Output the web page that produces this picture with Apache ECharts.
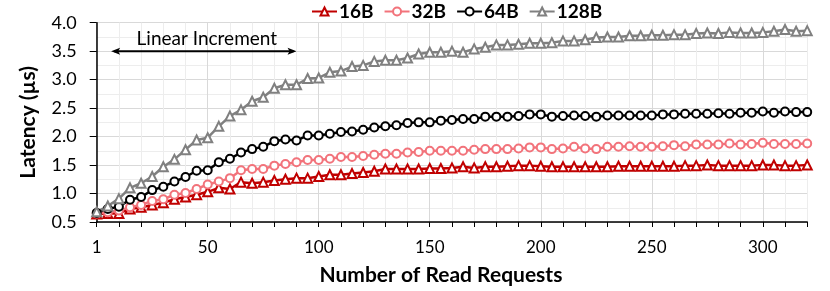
<!DOCTYPE html>
<html>
<head>
<meta charset="utf-8">
<script src="https://cdn.jsdelivr.net/npm/echarts@6/dist/echarts.min.js"></script>
<style>html,body{margin:0;padding:0;background:#fff;}#c{width:830px;height:291px;}</style>
</head>
<body>
<div id="c"></div>
<script>
const categories = ['1','5','10','15','20','25','30','35','40','45','50','55','60','65','70','75','80','85','90','95','100','105','110','115','120','125','130','135','140','145','150','155','160','165','170','175','180','185','190','195','200','205','210','215','220','225','230','235','240','245','250','255','260','265','270','275','280','285','290','295','300','305','310','315','320'];
const seriesNames = ['16B','32B','64B','128B'];
const lat16 = [0.64,0.65,0.65,0.73,0.76,0.80,0.84,0.90,0.94,0.98,1.03,1.10,1.08,1.20,1.18,1.20,1.23,1.25,1.27,1.27,1.30,1.33,
  1.33,1.35,1.37,1.39,1.43,1.43,1.43,1.43,1.44,1.44,1.45,1.47,1.45,1.47,1.47,1.48,1.49,1.49,1.48,1.47,1.47,1.47,
  1.47,1.47,1.47,1.48,1.48,1.48,1.48,1.48,1.48,1.49,1.49,1.50,1.49,1.49,1.49,1.49,1.50,1.50,1.49,1.49,1.50];
const lat32 = [0.65,0.67,0.70,0.76,0.80,0.87,0.90,0.98,1.01,1.08,1.16,1.21,1.27,1.41,1.43,1.43,1.49,1.52,1.55,1.59,1.59,1.61,
  1.64,1.64,1.66,1.68,1.70,1.70,1.72,1.73,1.75,1.75,1.75,1.75,1.77,1.78,1.78,1.78,1.79,1.81,1.81,1.78,1.79,1.82,
  1.79,1.78,1.82,1.82,1.83,1.82,1.82,1.83,1.85,1.83,1.86,1.86,1.86,1.88,1.86,1.87,1.89,1.87,1.87,1.87,1.88];
const lat64 = [0.66,0.73,0.77,0.89,0.94,1.06,1.12,1.21,1.29,1.40,1.41,1.55,1.61,1.72,1.78,1.82,1.92,1.95,1.93,2.02,2.02,2.05,
  2.08,2.09,2.12,2.16,2.18,2.20,2.24,2.25,2.25,2.28,2.29,2.31,2.31,2.35,2.35,2.35,2.36,2.39,2.39,2.35,2.36,2.37,
  2.36,2.35,2.37,2.37,2.37,2.37,2.37,2.39,2.39,2.40,2.40,2.40,2.41,2.40,2.42,2.42,2.44,2.42,2.44,2.43,2.43];
const lat128 = [0.68,0.78,0.91,1.10,1.18,1.30,1.47,1.60,1.77,1.94,1.98,2.18,2.36,2.47,2.62,2.69,2.85,2.91,2.91,3.02,3.03,3.13,
  3.15,3.23,3.25,3.32,3.34,3.34,3.38,3.45,3.48,3.48,3.50,3.48,3.54,3.57,3.61,3.61,3.62,3.64,3.64,3.65,3.68,3.68,
  3.70,3.74,3.75,3.75,3.77,3.77,3.78,3.78,3.79,3.79,3.81,3.82,3.81,3.83,3.82,3.82,3.83,3.85,3.88,3.85,3.86];
const yTicks = [0.5,1.0,1.5,2.0,2.5,3.0,3.5,4.0];
const annotation = {text:'Linear Increment', fromIdx:1.3, toIdx:18, y:3.5};

const colors = ['#C00000','#F2737B','#000000','#808080'];
const symbols = ['emptyTriangle','emptyCircle','emptyCircle','emptyTriangle'];
const datas = [lat16, lat32, lat64, lat128];
const FONT = 'Lato';

const chart = echarts.init(document.getElementById('c'), null, {renderer:'canvas'});
const series = seriesNames.map((n,i)=>({
  name:n, type:'line', data:datas[i], color:colors[i],
  symbol:symbols[i], symbolSize: symbols[i]==='emptyCircle'?8:9,
  showAllSymbol:true,
  lineStyle:{width:2.5,color:colors[i]},
  itemStyle:{color:colors[i],borderWidth:2},
  emphasis:{disabled:true}, animation:false
}));

chart.setOption({
  animation:false,
  textStyle:{fontFamily:FONT},
  legend:{
    top:-3, left:306, itemGap:10, itemWidth:25, itemHeight:10,
    textStyle:{fontFamily:FONT,fontWeight:'bold',fontSize:19,color:'#000',padding:[0,0,0,-3]},
    data:seriesNames
  },
  grid:{left:96.7, right:22.8, top:22.7, bottom:62.7, containLabel:false},
  xAxis:{
    type:'category', data:categories, boundaryGap:false,
    name:'Number of Read Requests', nameLocation:'middle', nameGap:43,
    nameTextStyle:{fontFamily:FONT,fontWeight:'bold',fontSize:21,color:'#000',padding:[0,22,0,0]},
    axisLine:{lineStyle:{color:'#000',width:1.5}},
    axisTick:{show:true,interval:1,length:5,lineStyle:{color:'#000',width:1}},
    axisLabel:{interval:9,fontFamily:FONT,fontSize:17,color:'#000',margin:17},
    splitLine:{show:true,interval:1,lineStyle:{color:['#d9d9d9','#ededed','#ededed','#ededed','#ededed'],width:1}}
  },
  yAxis:{
    type:'value', min:0.5, max:4.0, interval:0.5,
    name:'Latency (µs)', nameLocation:'middle', nameGap:58,
    nameTextStyle:{fontFamily:FONT,fontWeight:'bold',fontSize:21,color:'#000'},
    axisLine:{show:true,lineStyle:{color:'#000',width:1.5}},
    axisTick:{show:true,length:7,lineStyle:{color:'#000'}},
    axisLabel:{fontFamily:FONT,fontSize:18,color:'#000',margin:20,formatter:v=>v.toFixed(1)},
    splitLine:{show:true,lineStyle:{color:'#d9d9d9',width:1}},
    minorTick:{show:false,splitNumber:2},
    minorSplitLine:{show:true,lineStyle:{color:'#ededed',width:1}}
  },
  series:series
});

// annotation arrow (positioned through the axes)
const p0 = chart.convertToPixel({gridIndex:0},[0,annotation.y]);
const p1 = chart.convertToPixel({gridIndex:0},[categories.length-1,annotation.y]);
const step = (p1[0]-p0[0])/(categories.length-1);
const xa = p0[0]+annotation.fromIdx*step, xb = p0[0]+annotation.toIdx*step, ya = p0[1];
chart.setOption({graphic:[
  {type:'line',shape:{x1:xa+3,y1:ya,x2:xb-3,y2:ya},style:{stroke:'#000',lineWidth:2},z:100},
  {type:'polygon',shape:{points:[[xa,ya],[xa+9,ya-3.5],[xa+7,ya],[xa+9,ya+3.5]]},style:{fill:'#000'},z:100},
  {type:'polygon',shape:{points:[[xb,ya],[xb-9,ya-3.5],[xb-7,ya],[xb-9,ya+3.5]]},style:{fill:'#000'},z:100},
  {type:'text',x:(xa+xb)/2+3,y:ya-3,style:{text:annotation.text,fontFamily:FONT,fontSize:19,fill:'#000',align:'center',verticalAlign:'bottom'},z:100}
]});
</script>
</body>
</html>
